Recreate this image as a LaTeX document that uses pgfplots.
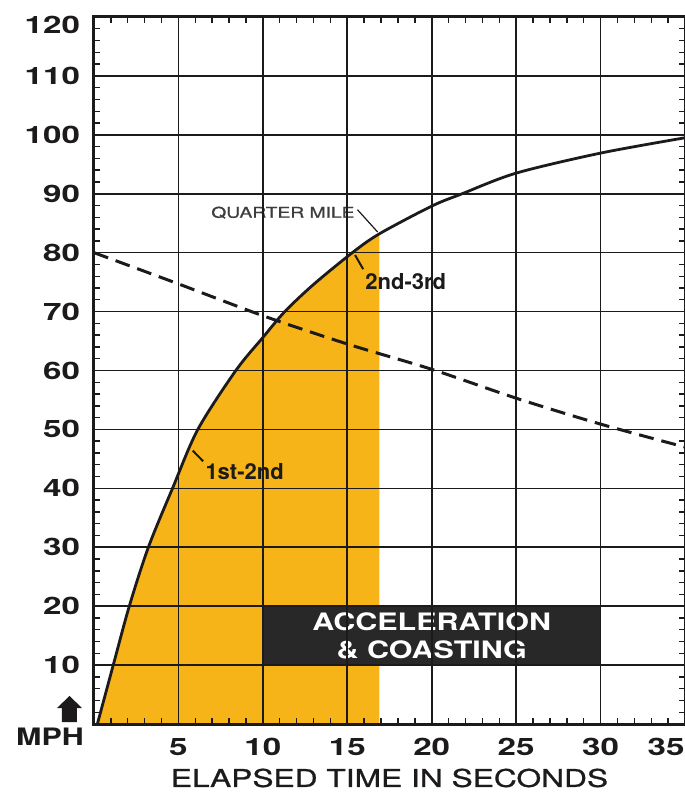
\documentclass[border=0pt]{standalone}
\usepackage{fontspec}
\setmainfont{TeX Gyre Heros}[FakeStretch=1.27]
\newfontfamily\plainfont{TeX Gyre Heros}
\newfontfamily\tickfont{TeX Gyre Heros}[FakeStretch=1.38]
\newfontfamily\labelfont{TeX Gyre Heros}[FakeStretch=1.3, FakeBold=0.9]
\usepackage{pgfplots}
\usepackage{pgfplotstable}
\pgfplotsset{compat=1.18}
\usepgfplotslibrary{fillbetween}
\definecolor{accyellow}{RGB}{246,180,24}
\definecolor{boxgray}{RGB}{40,40,40}
\definecolor{inkc}{RGB}{28,26,26}

\pgfplotstableread{
t v
0.2 0
1.14 10
2.09 20
3.22 30
4.65 40
6.15 50
8.4 60
10 65.6
11.3 70
13 74.6
15.3 80
16.9 83.2
20 87.9
21.8 90
25 93.5
30 96.9
35 99.5
}\accel

\pgfplotstableread{
t v
0 80
5 74.7
10 69.3
15 64.5
20 60.2
25 55.3
30 50.9
35 47.0
}\coast

\begin{document}
\begin{tikzpicture}
\begin{axis}[
  at={(0,0)}, anchor=south west,
  scale only axis, width=295.5pt, height=353.5pt,
  xmin=0, xmax=35, ymin=0, ymax=120,
  xtick={0,5,...,35}, ytick={0,10,...,120},
  xticklabels={,5,10,15,20,25,30,35\kern19pt},
  yticklabels={,10,20,30,40,50,60,70,80,90,100,110,\raisebox{-4pt}[\height][0pt]{120}},
  minor x tick num=4, minor y tick num=4,
  grid=major,
  major grid style={line width=0.8pt, draw=inkc},
  axis line style={line width=1.5pt, draw=inkc},
  tick align=inside,
  major tick length=0pt, minor tick length=3pt,
  minor tick style={line width=0.7pt, draw=inkc},
  xticklabel style={font=\tickfont\bfseries\fontsize{12}{14}\selectfont, text=inkc, yshift=-3.5pt},
  yticklabel style={font=\tickfont\bfseries\fontsize{12}{14}\selectfont, text=inkc, xshift=-3.5pt},
  xlabel={ELAPSED TIME IN SECONDS},
  xlabel style={at={(axis description cs:0.5,0)}, anchor=center, yshift=-27pt,
                font=\labelfont\fontsize{12.2}{14}\selectfont, text=inkc},
  axis on top,
]
\addplot[name path=acc, draw=none, smooth, forget plot] table[x=t,y=v]{\accel};
\path[name path=base] (axis cs:0,0) -- (axis cs:35,0);
\addplot[fill=accyellow, draw=none] fill between[of=acc and base, soft clip={domain=0:16.9}];
\addplot[smooth, line width=1.4pt, draw=inkc] table[x=t,y=v]{\accel};
\addplot[line width=1.5pt, draw=inkc, dash pattern=on 7.5pt off 4pt, smooth] table[x=t,y=v]{\coast};
\coordinate (bx1) at (axis cs:10,10);
\coordinate (bx2) at (axis cs:30,20);
\coordinate (bxc) at (axis cs:20,15);
\coordinate (qmA) at (axis cs:15.6,87.3);
\coordinate (qmB) at (axis cs:16.8,83.5);
\coordinate (qmT) at (axis cs:15.45,86.8);
\coordinate (tdA) at (axis cs:15.46,79.6);
\coordinate (tdB) at (axis cs:15.94,77.2);
\coordinate (tdT) at (axis cs:16.05,75.1);
\coordinate (fsA) at (axis cs:5.85,46.4);
\coordinate (fsB) at (axis cs:6.46,44.6);
\coordinate (fsT) at (axis cs:6.58,42.9);
\end{axis}
\fill[boxgray] (bx1) rectangle (bx2);
\node[text=white, font=\bfseries\fontsize{12}{14}\selectfont, align=center, inner sep=0pt] at (bxc) {ACCELERATION\\\& COASTING};
\node[anchor=east, inner sep=0pt, text=inkc!85, font=\labelfont\fontsize{7.4}{9}\selectfont] at (qmT) {QUARTER MILE};
\draw[line width=0.6pt, inkc] (qmA) -- (qmB);
\node[anchor=west, inner sep=0pt, text=inkc, font=\plainfont\bfseries\fontsize{11}{13}\selectfont] at (tdT) {2nd-3rd};
\draw[line width=1pt, inkc] (tdA) -- (tdB);
\node[anchor=west, inner sep=0pt, text=inkc, font=\plainfont\bfseries\fontsize{11}{13}\selectfont] at (fsT) {1st-2nd};
\draw[line width=1pt, inkc] (fsA) -- (fsB);
% MPH arrow and label
\fill[inkc] (-16pt,1pt) -- (-8.5pt,1pt) -- (-8.5pt,8pt) -- (-6pt,8pt) -- (-12.25pt,14pt) -- (-18.5pt,8pt) -- (-16pt,8pt) -- cycle;
\node[text=inkc, font=\bfseries\fontsize{12}{14}\selectfont] at (-22pt,-6.25pt) {MPH};
\pgfresetboundingbox
\useasboundingbox (-47pt,-34.5pt) rectangle (295.5pt,362pt);
\end{tikzpicture}
\end{document}
